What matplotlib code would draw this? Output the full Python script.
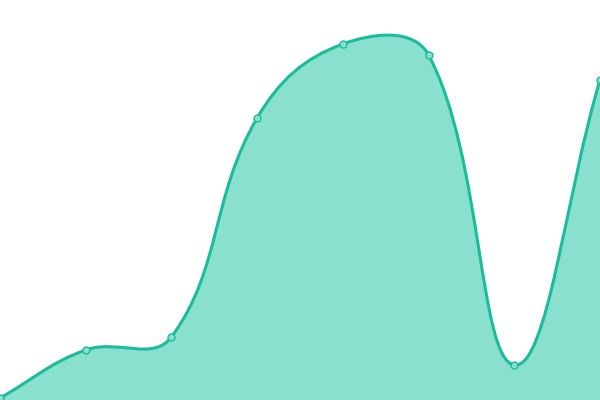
import numpy as np
import matplotlib.pyplot as plt
from matplotlib.path import Path
from matplotlib.patches import PathPatch

# Values (y axis runs 0..400, no axes shown).
labels = ['A', 'B', 'C', 'D', 'E', 'F', 'G', 'H']
values = [2, 50, 63, 282, 356, 345, 35, 320]

line_color = '#1abc9c'
fill_color = '#8ae0cf'
tension = 0.4

fig = plt.figure(figsize=(6, 4), dpi=100)
ax = fig.add_axes([0, 0, 1, 1])
ax.set_xlim(0, len(values) - 1)
ax.set_ylim(0, 400)
ax.axis('off')

# Spline control points worked out in pixel space, like a chart.js line.
x = np.arange(len(values))
pts = ax.transData.transform(np.column_stack([x, values]))
n = len(pts)
cp_in = pts.copy()
cp_out = pts.copy()
for i in range(n):
    prev = pts[max(i - 1, 0)]
    nxt = pts[min(i + 1, n - 1)]
    d01 = np.hypot(*(pts[i] - prev))
    d12 = np.hypot(*(nxt - pts[i]))
    tot = d01 + d12
    fa = tension * d01 / tot if tot else 0
    fb = tension * d12 / tot if tot else 0
    cp_in[i] = pts[i] - fa * (nxt - prev)
    cp_out[i] = pts[i] + fb * (nxt - prev)

# keep control points inside the plot area
bbox = ax.bbox
cp_in[:, 0] = np.clip(cp_in[:, 0], bbox.x0, bbox.x1)
cp_in[:, 1] = np.clip(cp_in[:, 1], bbox.y0, bbox.y1)
cp_out[:, 0] = np.clip(cp_out[:, 0], bbox.x0, bbox.x1)
cp_out[:, 1] = np.clip(cp_out[:, 1], bbox.y0, bbox.y1)

inv = ax.transData.inverted()
verts = [inv.transform(pts[0])]
codes = [Path.MOVETO]
for i in range(n - 1):
    verts += [inv.transform(cp_out[i]), inv.transform(cp_in[i + 1]), inv.transform(pts[i + 1])]
    codes += [Path.CURVE4] * 3

line_path = Path(verts, codes)
fill_verts = verts + [(x[-1], 0), (x[0], 0), verts[0]]
fill_codes = codes + [Path.LINETO, Path.LINETO, Path.CLOSEPOLY]

ax.add_patch(PathPatch(Path(fill_verts, fill_codes), facecolor=fill_color, edgecolor='none'))
ax.add_patch(PathPatch(line_path, facecolor='none', edgecolor=line_color, lw=2.2, capstyle='round'))
ax.plot(x, values, 'o', ms=5, mfc=fill_color, mec=line_color, mew=1, clip_on=False, zorder=3)

fig.savefig('out.png', dpi=100)
